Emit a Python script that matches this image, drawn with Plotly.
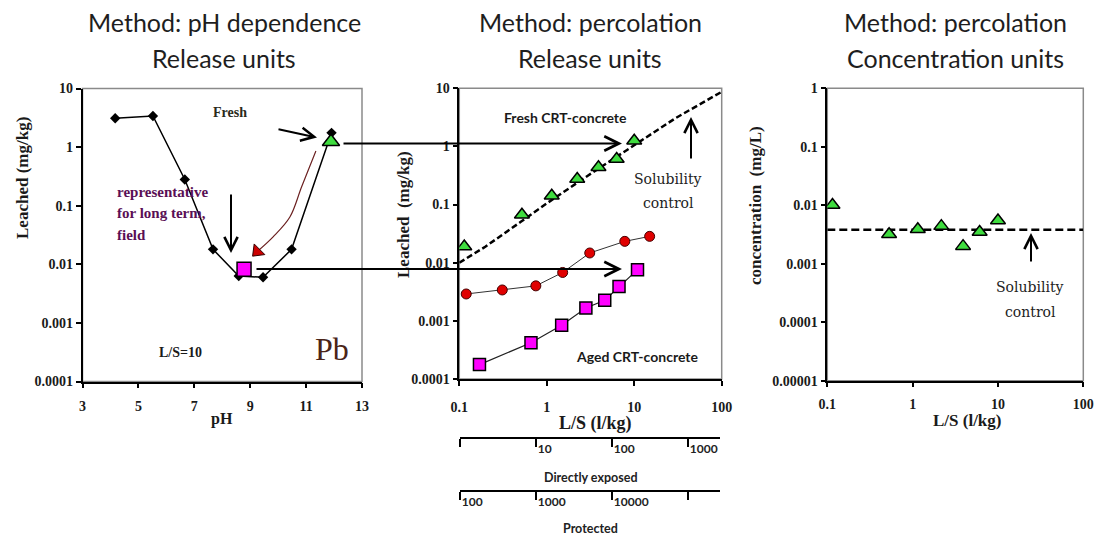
import plotly.graph_objects as go

W, H = 1097, 536

# ---------------- data ----------------
ph_values = [4.17, 5.52, 6.66, 7.67, 8.59, 9.46, 10.48, 11.91]
ph_leached = [3.1, 3.4, 0.28, 0.018, 0.0063, 0.006, 0.018, 1.75]
ph_aged_x = [8.78]
ph_aged_y = [0.0082]
ph_fresh_x = [11.89]
ph_fresh_y = [1.23]

perc_fresh_ls = [0.114, 0.52, 1.14, 2.23, 3.9, 6.3, 10.0]
perc_fresh = [0.019, 0.067, 0.142, 0.275, 0.44, 0.61, 1.25]
perc_red_ls = [0.12, 0.31, 0.75, 1.52, 3.1, 7.8, 15.0]
perc_red = [0.0029, 0.0034, 0.0040, 0.0068, 0.0147, 0.0233, 0.0284]
perc_aged_ls = [0.17, 0.66, 1.48, 2.8, 4.6, 6.7, 10.9]
perc_aged = [0.000177, 0.00042, 0.00084, 0.00167, 0.00226, 0.0039, 0.0076]
sol_ls = [0.1, 0.2, 0.5, 1, 3, 10, 30, 100]
sol_release = [0.01, 0.019, 0.05, 0.105, 0.32, 1.05, 3.1, 8.7]

conc_ls = [0.115, 0.53, 1.15, 2.17, 3.9, 6.1, 10.0]
conc = [0.0101, 0.0032, 0.0039, 0.0044, 0.0020, 0.0035, 0.0055]
sol_conc_ls = [0.1, 100]
sol_conc = [0.0038, 0.0038]

ph_ticks = [3, 5, 7, 9, 11, 13]
rel_ticks = [0.0001, 0.001, 0.01, 0.1, 1, 10]
rel_tick_text = ["0.0001", "0.001", "0.01", "0.1", "1", "10"]
conc_ticks = [0.00001, 0.0001, 0.001, 0.01, 0.1, 1]
conc_tick_text = ["0.00001", "0.0001", "0.001", "0.01", "0.1", "1"]
ls_ticks = [0.1, 1, 10, 100]
ls_tick_text = ["0.1", "1", "10", "100"]

exposed_ticks = [1, 10, 100, 1000]
exposed_text = ["", "10", "100", "1000"]
protected_ticks = [100, 1000, 10000, 100000]
protected_text = ["100", "1000", "10000", ""]

# red curved arrow path (pH, leached) in panel 1
curve_ph = [11.35, 10.84, 10.42, 9.82, 9.25]
curve_y = [0.86, 0.21, 0.064, 0.0294, 0.0165]

GREEN = "#3fdc3f"
MAGENTA = "#ff00ff"
RED = "#e00000"


def px(x):
    return x / W


def py(y):
    return 1 - y / H


fig = go.Figure()

# ---- panel 1 ----
fig.add_trace(go.Scatter(x=ph_values, y=ph_leached, mode="lines+markers",
                         line=dict(color="black", width=1.5),
                         marker=dict(symbol="diamond", size=8, color="black"),
                         xaxis="x", yaxis="y"))
fig.add_trace(go.Scatter(x=curve_ph, y=curve_y, mode="lines",
                         line=dict(color="#6b2020", width=1.2, shape="spline"),
                         xaxis="x", yaxis="y"))
fig.add_trace(go.Scatter(x=[curve_ph[-1]], y=[curve_y[-1]], mode="markers",
                         marker=dict(symbol="triangle-up", size=13, color="#cc0000", angle=225,
                                     line=dict(color="#300", width=1)),
                         xaxis="x", yaxis="y"))
fig.add_trace(go.Scatter(x=ph_aged_x, y=ph_aged_y, mode="markers",
                         marker=dict(symbol="square", size=14, color=MAGENTA,
                                     line=dict(color="black", width=1.5)),
                         xaxis="x", yaxis="y"))
fig.add_trace(go.Scatter(x=ph_fresh_x, y=ph_fresh_y, mode="markers",
                         marker=dict(symbol="triangle-up", size=15, color=GREEN,
                                     line=dict(color="black", width=1.5)),
                         xaxis="x", yaxis="y"))

# ---- panel 2 ----
fig.add_trace(go.Scatter(x=sol_ls, y=sol_release, mode="lines",
                         line=dict(color="black", width=2.5, dash="6px,3px"),
                         xaxis="x2", yaxis="y2"))
fig.add_trace(go.Scatter(x=perc_red_ls, y=perc_red, mode="lines+markers",
                         line=dict(color="#333", width=1),
                         marker=dict(symbol="circle", size=10, color=RED,
                                     line=dict(color="#400", width=1)),
                         xaxis="x2", yaxis="y2"))
fig.add_trace(go.Scatter(x=perc_aged_ls, y=perc_aged, mode="lines+markers",
                         line=dict(color="#222", width=1.2),
                         marker=dict(symbol="square", size=12, color=MAGENTA,
                                     line=dict(color="black", width=1.5)),
                         xaxis="x2", yaxis="y2"))
fig.add_trace(go.Scatter(x=perc_fresh_ls, y=perc_fresh, mode="markers",
                         marker=dict(symbol="triangle-up", size=13, color=GREEN,
                                     line=dict(color="black", width=1.5)),
                         xaxis="x2", yaxis="y2"))

# ---- panel 3 ----
fig.add_trace(go.Scatter(x=sol_conc_ls, y=sol_conc, mode="lines",
                         line=dict(color="black", width=2.5, dash="8px,4px"),
                         xaxis="x3", yaxis="y3"))
fig.add_trace(go.Scatter(x=conc_ls, y=conc, mode="markers",
                         marker=dict(symbol="triangle-up", size=13, color=GREEN,
                                     line=dict(color="black", width=1.5)),
                         xaxis="x3", yaxis="y3"))

# empty traces carrying the two scale-bar axes (own hidden y axes)
fig.add_trace(go.Scatter(x=[10], y=[None], mode="markers", xaxis="x4", yaxis="y4",
                         hoverinfo="skip"))
fig.add_trace(go.Scatter(x=[1000], y=[None], mode="markers", xaxis="x5", yaxis="y5",
                         hoverinfo="skip"))

tickfont = dict(family="Liberation Serif", size=14, color="#1a1a1a", weight="bold")
common = dict(showgrid=False, zeroline=False, showline=True, linecolor="black",
              linewidth=1.5, ticks="outside", ticklen=5, tickcolor="black",
              tickwidth=1.5, tickfont=tickfont, automargin=False)

bar_common = dict(showgrid=False, zeroline=False, showline=True, automargin=False,
                  linecolor="black", linewidth=2, ticks="outside", ticklen=8,
                  tickcolor="black", tickwidth=1.5, ticklabelposition="outside right",
                  tickfont=dict(family="Lato", size=12, color="#222", weight="bold"))

fig.update_layout(
    template="none",
    width=W, height=H,
    margin=dict(l=0, r=0, t=0, b=0, pad=0),
    paper_bgcolor="white", plot_bgcolor="white",
    showlegend=False,
    xaxis=dict(domain=[px(82.5), px(362)], range=[3, 13], tickvals=ph_ticks,
               anchor="y", ticklabelstandoff=6, **common),
    yaxis=dict(domain=[py(381.5), py(88.5)], type="log", range=[-4, 1],
               tickvals=rel_ticks, ticktext=rel_tick_text, anchor="x", **common),
    xaxis2=dict(domain=[px(459.3), px(721.7)], type="log", range=[-1, 2],
                tickvals=ls_ticks, ticktext=ls_tick_text, anchor="y2",
                ticklabelstandoff=9, **common),
    yaxis2=dict(domain=[py(379), py(88.3)], type="log", range=[-4, 1],
                tickvals=rel_ticks, ticktext=rel_tick_text, anchor="x2", **common),
    xaxis3=dict(domain=[px(827.3), px(1083.3)], type="log", range=[-1, 2],
                tickvals=ls_ticks, ticktext=ls_tick_text, anchor="y3",
                ticklabelstandoff=5, **common),
    yaxis3=dict(domain=[py(380.7), py(88.3)], type="log", range=[-5, 0],
                tickvals=conc_ticks, ticktext=conc_tick_text, anchor="x3", **common),
    xaxis4=dict(domain=[px(460), px(720)], type="log", range=[0, 3.42],
                tickvals=exposed_ticks, ticktext=exposed_text, anchor="free",
                position=py(437.7), **bar_common),
    xaxis5=dict(domain=[px(460), px(720)], type="log", range=[2, 5.42],
                tickvals=protected_ticks, ticktext=protected_text, anchor="free",
                position=py(491), **bar_common),
    yaxis4=dict(domain=[0, 0.02], range=[0, 1], visible=False, anchor="x4"),
    yaxis5=dict(domain=[0, 0.02], range=[0, 1], visible=False, anchor="x5"),
)

# gray frames
for xr, yr in [("x", "y"), ("x2", "y2"), ("x3", "y3")]:
    fig.add_shape(type="rect", xref=f"{xr} domain", yref=f"{yr} domain",
                  x0=0, x1=1, y0=0, y1=1, line=dict(color="#8a8a8a", width=1.5),
                  layer="below")

ann = []


def text(x, y, s, size, family="Liberation Serif", color="#1a1a1a", bold=False,
         angle=0, xanchor="center"):
    ann.append(dict(x=px(x), y=py(y), xref="paper", yref="paper", text=s,
                    showarrow=False, textangle=angle, xanchor=xanchor, yanchor="middle",
                    font=dict(family=family, size=size, color=color,
                              weight="bold" if bold else "normal")))


def arrow(x0, y0, x1, y1, width=2, head=5, color="black", size=1.3):
    ann.append(dict(x=px(x1), y=py(y1), ax=x0 - x1, ay=y0 - y1, xref="paper",
                    yref="paper", axref="pixel", ayref="pixel", text="",
                    showarrow=True, arrowhead=head, arrowwidth=width, arrowsize=size,
                    arrowcolor=color))


# titles
TF = "Lato"
TC = "#1e1e1e"
text(224, 22, "Method: pH dependence", 25, TF, TC)
text(224, 58, "Release units", 25, TF, TC)
text(590, 22, "Method: percolation", 25, TF, TC)
text(590, 58, "Release units", 25, TF, TC)
text(955, 22, "Method: percolation", 25, TF, TC)
text(955, 58, "Concentration units", 25, TF, TC)

# axis titles
text(22, 178, "Leached (mg/kg)", 17, bold=True, angle=-90)
text(403, 215, "Leached  (mg/kg)", 17, bold=True, angle=-90)
text(756, 206, "concentration  (mg/L)", 17, bold=True, angle=-90)
text(222, 419, "pH", 16, bold=True)
text(595, 423, "L/S (l/kg)", 18, bold=True)
text(967, 420, "L/S (l/kg)", 17, bold=True)

# panel 1 texts
text(230, 113, "Fresh", 14, color="#2a2a1a", bold=True)
text(115, 192, "representative", 15, color="#5a0f55", bold=True, xanchor="left")
text(115, 213, "for long term,", 15, color="#5a0f55", bold=True, xanchor="left")
text(115, 235, "field", 15, color="#5a0f55", bold=True, xanchor="left")
text(180, 352, "L/S=10", 14, bold=True)
text(332, 349, "Pb", 32, color="#4a2418")

# panel 2 texts
text(565, 117, "Fresh CRT-concrete", 14, "Lato", "#1a1a1a", True)
text(637, 356, "Aged CRT-concrete", 14, "Lato", "#1a1a1a", True)
text(668, 179, "Solubility", 14, "DejaVu Serif", "#222")
text(668, 203, "control", 14, "DejaVu Serif", "#222")

# panel 3 texts
text(1030, 287, "Solubility", 14, "DejaVu Serif", "#222")
text(1030, 312, "control", 14, "DejaVu Serif", "#222")

# scale bar captions
text(590, 477, "Directly exposed", 12.5, "Lato", "#222", True)
text(590, 528, "Protected", 12.5, "Lato", "#222", True)

# arrows
arrow(277, 129, 317, 137.5)
arrow(231, 193, 231, 253)
arrow(691, 160, 691, 117)
arrow(1031, 263, 1031, 233)
arrow(342, 143.5, 622, 143.5, width=2.2)
arrow(255, 269, 622, 269, width=2.2)

fig.update_layout(annotations=ann)
fig.write_html("out.html")
